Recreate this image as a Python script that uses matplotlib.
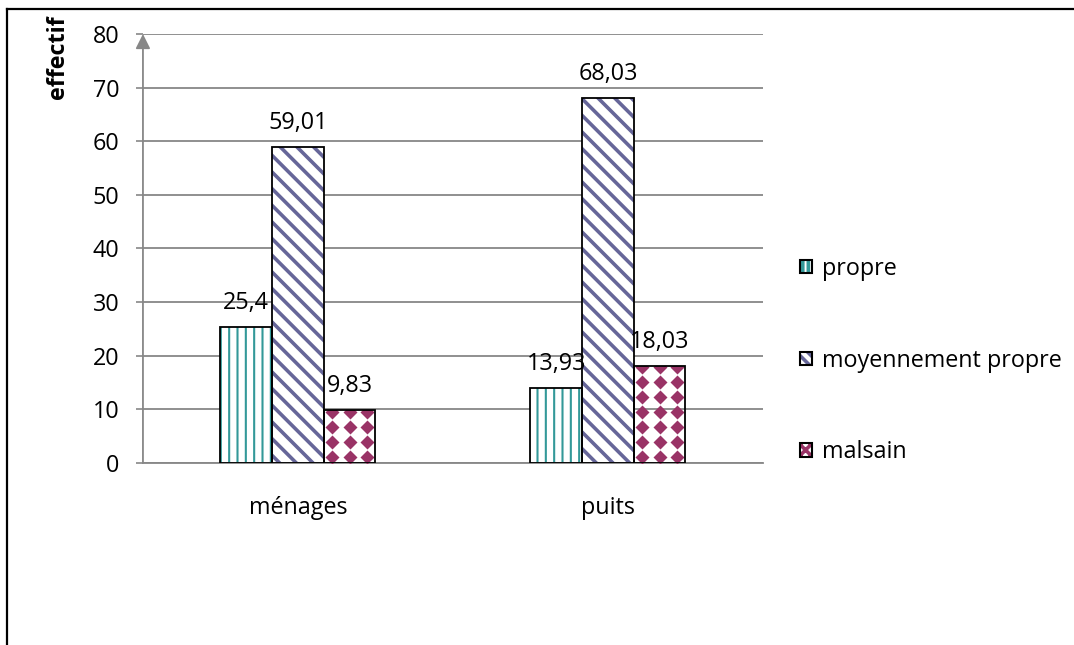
import matplotlib.pyplot as plt
import numpy as np
from matplotlib.lines import Line2D
from matplotlib.patches import Patch

plt.rcParams['font.family'] = ['Open Sans', 'DejaVu Sans']

categories = ['ménages', 'puits']
series = ['propre', 'moyennement propre', 'malsain']
propre = [25.4, 13.93]
moyennement = [59.01, 68.03]
malsain = [9.83, 18.03]
value_labels = [['25,4', '13,93'], ['59,01', '68,03'], ['9,83', '18,03']]
y_ticks = [0, 10, 20, 30, 40, 50, 60, 70, 80]

teal = '#339999'
slate = '#666699'
maroon = '#993366'
grey = '#878787'
fs = 16.8

fig = plt.figure(figsize=(10.74, 6.45), dpi=100)
ax = fig.add_axes([0.1331, 0.2822, 0.5773, 0.6651])

x = np.arange(len(categories))
width = 1 / 6
offsets = [-width, 0, width]
values = [propre, moyennement, malsain]
hatches = ['||', '\\\\', None]
hatch_colors = [teal, slate, maroon]
hatch_widths = [1.5, 2.6, 1.0]

for i, vals in enumerate(values):
    pos = x + offsets[i]
    if hatches[i]:
        plt.rcParams['hatch.linewidth'] = hatch_widths[i]
        fills = ax.bar(pos, vals, width, color='white', edgecolor=hatch_colors[i],
                       hatch=hatches[i], linewidth=0, zorder=2)
        for b in fills:
            if hasattr(b, 'set_hatch_linewidth'):
                b.set_hatch_linewidth(hatch_widths[i])
    outlines = ax.bar(pos, vals, width, fill=False, edgecolor='black',
                      linewidth=1.3, zorder=4)
    if hatches[i] is None:
        # diamond pattern clipped to each bar
        for b, v in zip(outlines, vals):
            bx = b.get_x()
            cols = bx + (np.arange(3) + 0.5) * width / 3
            rows = np.arange(1.1, v + 1.5, 2.8)
            gx, gy = np.meshgrid(cols, rows)
            ln, = ax.plot(gx.ravel(), gy.ravel(), 'D', color=maroon, ms=7.6,
                          mec='none', zorder=3)
            ln.set_clip_path(b)
    for b, v, lab in zip(outlines, vals, value_labels[i]):
        ax.annotate(lab, (b.get_x() + width / 2, v), xytext=(0, 8.5),
                    textcoords='offset points', ha='center', va='bottom',
                    fontsize=fs, color='black')

ax.set_xlim(-0.5, 1.5)
ax.set_ylim(0, 80)
ax.set_xticks(x)
ax.set_xticklabels(categories, fontsize=fs)
ax.set_yticks(y_ticks)
ax.set_yticklabels([str(t) for t in y_ticks], fontsize=fs)
ax.tick_params(axis='x', length=0, pad=24)
ax.tick_params(axis='y', length=5, width=1.2, color=grey, pad=12)
ax.yaxis.grid(True, color=grey, linewidth=1.3)
ax.set_axisbelow(True)
for side in ['top', 'right', 'left']:
    ax.spines[side].set_visible(False)
ax.spines['bottom'].set_color(grey)
ax.spines['bottom'].set_linewidth(1.3)

# y axis drawn as an arrow up to the top value
ax.annotate('', xy=(-0.5, 80), xytext=(-0.5, 0),
            arrowprops=dict(arrowstyle='-|>', color=grey, lw=1.3,
                            mutation_scale=22, shrinkA=0, shrinkB=0),
            annotation_clip=False, zorder=5)

fig.text(58 / 1074, 1 - 57 / 645, 'effectif', rotation=90, ha='center',
         va='center', fontsize=fs, fontweight='bold')

handles = [
    (Patch(facecolor='white', edgecolor=teal, hatch='|||', linewidth=0),
     Patch(fill=False, edgecolor='black', linewidth=1.5)),
    (Patch(facecolor='white', edgecolor=slate, hatch='\\\\\\', linewidth=0),
     Patch(fill=False, edgecolor='black', linewidth=1.5)),
    (Patch(facecolor='white', edgecolor=maroon, hatch='xxx', linewidth=0),
     Patch(fill=False, edgecolor='black', linewidth=1.5)),
]
fig.legend(handles, series, loc='upper left', bbox_to_anchor=(800 / 1074, 1 - 257 / 645),
           frameon=False, fontsize=fs, handlelength=0.5, handleheight=0.5,
           handletextpad=0.45, labelspacing=2.9, borderaxespad=0, borderpad=0)

# outer frame on the left and top
fig.add_artist(Line2D([7.5 / 1074, 7.5 / 1074], [0, 1 - 8.5 / 645], color='black', lw=1.6))
fig.add_artist(Line2D([7.5 / 1074, 1], [1 - 8.5 / 645, 1 - 8.5 / 645], color='black', lw=1.6))

fig.savefig('out.png', dpi=100)
